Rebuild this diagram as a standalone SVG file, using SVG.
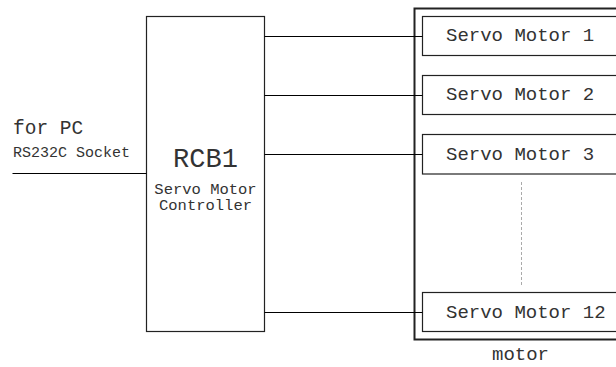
<svg xmlns="http://www.w3.org/2000/svg" width="616" height="367" viewBox="0 0 616 367">
  <style>
    text { font-family: "Liberation Mono", "DejaVu Sans Mono", monospace; fill: #333; }
    .box { fill: #fff; stroke: #222; stroke-width: 1.2; }
    .frame { fill: none; stroke: #222; stroke-width: 2; }
    .wire { fill: none; stroke: #000; stroke-width: 1.2; }
    .dots { fill: none; stroke: #aaa; stroke-width: 1; stroke-dasharray: 3 2; }
    .label { font-size: 19px; }
  </style>
  <rect width="616" height="367" fill="#fff"/>

  <!-- PC serial input -->
  <g id="pc-input">
    <text x="13" y="134" font-size="19.5px">for PC</text>
    <text x="13" y="157" font-size="15px">RS232C Socket</text>
  </g>

  <!-- controller board -->
  <g id="rcb1">
    <rect class="box" x="146.5" y="16.5" width="118" height="315"/>
    <text x="205.5" y="166.5" font-size="27px" text-anchor="middle">RCB1</text>
    <text x="205.5" y="194" font-size="15.5px" text-anchor="middle">Servo Motor</text>
    <text x="205.5" y="209.5" font-size="15.5px" text-anchor="middle">Controller</text>
  </g>

  <!-- motor group frame -->
  <g id="motor">
    <rect class="frame" x="414.5" y="8.5" width="215" height="331"/>
    <text x="520.5" y="360" class="label" text-anchor="middle">motor</text>
    <line class="dots" x1="521.5" y1="182" x2="521.5" y2="285"/>
  </g>

  <g id="servo1">
    <rect class="box" x="422.5" y="16.5" width="200" height="39"/>
    <text x="446" y="41" class="label">Servo Motor 1</text>
  </g>
  <g id="servo2">
    <rect class="box" x="422.5" y="75.5" width="200" height="39"/>
    <text x="446" y="100" class="label">Servo Motor 2</text>
  </g>
  <g id="servo3">
    <rect class="box" x="422.5" y="134.5" width="200" height="39.5"/>
    <text x="446" y="159.5" class="label">Servo Motor 3</text>
  </g>
  <g id="servo12">
    <rect class="box" x="422.5" y="292.5" width="200" height="39"/>
    <text x="446" y="317.5" class="label">Servo Motor 12</text>
  </g>

  <!-- connectors -->
  <g id="connectors">
    <line class="wire" x1="12.5" y1="173.5" x2="146.5" y2="173.5"/>
    <line class="wire" x1="264.5" y1="36.5" x2="422.5" y2="36.5"/>
    <line class="wire" x1="264.5" y1="95.5" x2="422.5" y2="95.5"/>
    <line class="wire" x1="264.5" y1="154.5" x2="422.5" y2="154.5"/>
    <line class="wire" x1="264.5" y1="312.5" x2="422.5" y2="312.5"/>
  </g>
</svg>
